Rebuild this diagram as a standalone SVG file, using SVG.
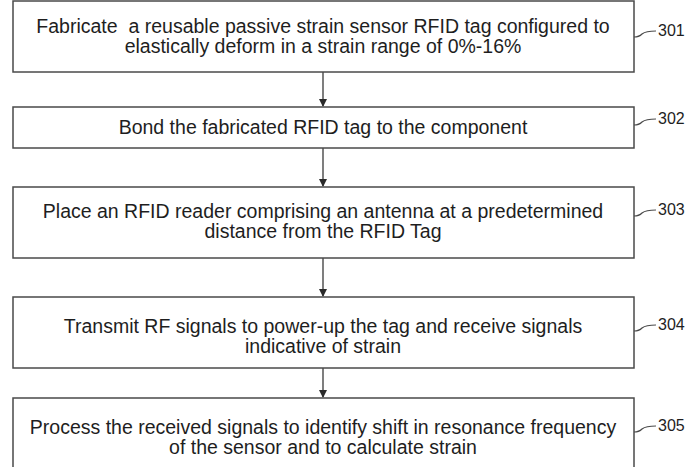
<svg xmlns="http://www.w3.org/2000/svg" width="693" height="467" viewBox="0 0 693 467">
<style>
.box{fill:#fff;stroke:#4a4a4a;stroke-width:1.5}
.t{font-family:"Liberation Sans",Arial,sans-serif;font-size:19.5px;fill:#1e1e1e;text-anchor:middle}
.lbl{font-family:"Liberation Sans",Arial,sans-serif;font-size:16px;fill:#1e1e1e}
.lead{fill:none;stroke:#4a4a4a;stroke-width:1.2}
.conn{stroke:#3a3a3a;stroke-width:1.3;fill:none}
</style>
<defs>
<marker id="ah" markerWidth="8" markerHeight="10" refX="7" refY="4" orient="auto" markerUnits="userSpaceOnUse" viewBox="0 0 8 8">
<path d="M0,0 L8,4 L0,8 z" fill="#2a2a2a"/>
</marker>
</defs>
<rect width="693" height="467" fill="#fff"/>
<g id="connectors">
<line class="conn" x1="323" y1="72" x2="323" y2="106" marker-end="url(#ah)"/>
<line class="conn" x1="323" y1="148" x2="323" y2="186" marker-end="url(#ah)"/>
<line class="conn" x1="323" y1="258" x2="323" y2="296" marker-end="url(#ah)"/>
<line class="conn" x1="323" y1="368" x2="323" y2="397" marker-end="url(#ah)"/>
</g>
<g id="n301">
<rect class="box" x="13" y="1" width="621" height="71"/>
<text class="t" x="323" y="33" xml:space="preserve">Fabricate  a reusable passive strain sensor RFID tag configured to</text>
<text class="t" x="323" y="53">elastically deform in a strain range of 0%-16%</text>
<path class="lead" d="M634,37 q5,0 8,-3 q4,-3 14,-3"/>
<text class="lbl" x="658" y="36">301</text>
</g>
<g id="n302">
<rect class="box" x="13" y="107" width="621" height="41"/>
<text class="t" x="323" y="134">Bond the fabricated RFID tag to the component</text>
<path class="lead" d="M634,125 q5,0 8,-3 q4,-3 14,-3"/>
<text class="lbl" x="658" y="124">302</text>
</g>
<g id="n303">
<rect class="box" x="13" y="187" width="621" height="71"/>
<text class="t" x="323" y="218">Place an RFID reader comprising an antenna at a predetermined</text>
<text class="t" x="323" y="238">distance from the RFID Tag</text>
<path class="lead" d="M634,216 q5,0 8,-3 q4,-3 14,-3"/>
<text class="lbl" x="658" y="215">303</text>
</g>
<g id="n304">
<rect class="box" x="13" y="297" width="621" height="71"/>
<text class="t" x="323" y="333">Transmit RF signals to power-up the tag and receive signals</text>
<text class="t" x="323" y="353">indicative of strain</text>
<path class="lead" d="M634,331 q5,0 8,-3 q4,-3 14,-3"/>
<text class="lbl" x="658" y="330">304</text>
</g>
<g id="n305">
<rect class="box" x="13" y="398" width="621" height="75"/>
<text class="t" x="323" y="434">Process the received signals to identify shift in resonance frequency</text>
<text class="t" x="323" y="454">of the sensor and to calculate strain</text>
<path class="lead" d="M634,432 q5,0 8,-3 q4,-3 14,-3"/>
<text class="lbl" x="658" y="431">305</text>
</g>
</svg>
